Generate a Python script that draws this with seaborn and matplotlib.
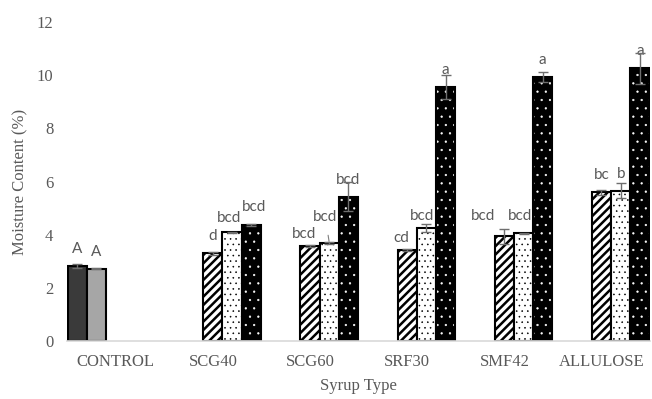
import numpy as np
import pandas as pd
import matplotlib
matplotlib.use("Agg")
import matplotlib.pyplot as plt
import matplotlib.patches as mpatches
import seaborn as sns

categories = ["CONTROL", "SCG40", "SCG60", "SRF30", "SMF42", "ALLULOSE"]
series = ["control_1", "control_2", "treat_1", "treat_2", "treat_3"]
nan = np.nan

control_1 = [2.83, nan, nan, nan, nan, nan]
control_2 = [2.73, nan, nan, nan, nan, nan]
treat_1 = [nan, 3.30, 3.57, 3.42, 3.95, 5.59]
treat_2 = [nan, 4.09, 3.70, 4.26, 4.05, 5.65]
treat_3 = [nan, 4.36, 5.43, 9.56, 9.94, 10.25]

control_1_err = [0.07, nan, nan, nan, nan, nan]
control_2_err = [0.03, nan, nan, nan, nan, nan]
treat_1_err = [nan, 0.05, 0.03, 0.03, 0.28, 0.10]
treat_2_err = [nan, 0.03, 0.04, 0.15, 0.03, 0.28]
treat_3_err = [nan, 0.04, 0.55, 0.45, 0.19, 0.60]

control_1_lab = ["A", "", "", "", "", ""]
control_2_lab = ["A", "", "", "", "", ""]
treat_1_lab = ["", "d", "bcd", "cd", "bcd", "bc"]
treat_2_lab = ["", "bcd", "bcd", "bcd", "bcd", "b"]
treat_3_lab = ["", "bcd", "bcd", "a", "a", "a"]

values = [control_1, control_2, treat_1, treat_2, treat_3]
errors = [control_1_err, control_2_err, treat_1_err, treat_2_err, treat_3_err]
letters = [control_1_lab, control_2_lab, treat_1_lab, treat_2_lab, treat_3_lab]

rows = []
for s, vals, errs, labs in zip(series, values, errors, letters):
    for c, v, e, l in zip(categories, vals, errs, labs):
        rows.append({"syrup": c, "series": s, "moisture": v, "err": e, "label": l})
df = pd.DataFrame(rows).dropna(subset=["moisture"])

# letter label nudges (pixels), the way they sit in the original
nudge = {
    ("SCG40", "treat_2"): (-3, 14),
    ("SCG40", "treat_3"): (3, 18),
    ("SCG60", "treat_1"): (-6, 12),
    ("SCG60", "treat_2"): (-4, 26),
    ("SRF30", "treat_1"): (-6, 12),
    ("SRF30", "treat_2"): (-4, 12),
    ("SMF42", "treat_1"): (-21, 20),
    ("SMF42", "treat_2"): (-3, 17),
}

sns.set_style("white")
plt.rcParams["hatch.linewidth"] = 1.8
serif = ["Liberation Serif", "DejaVu Serif"]
grey = "#595959"
fs = 12
fs_lab = 11


def hatch_lw(p, lw):
    # per-patch hatch width where matplotlib supports it
    if hasattr(p, "set_hatch_linewidth"):
        p.set_hatch_linewidth(lw)


fig = plt.figure(figsize=(6.52, 3.99), dpi=100)
ax = fig.add_axes([0.103, 0.145, 0.894, 0.80])

palette = {"control_1": "#3a3a3a", "control_2": "#a6a6a6",
           "treat_1": "white", "treat_2": "white", "treat_3": "black"}
sns.barplot(data=df, x="syrup", y="moisture", hue="series", order=categories,
            hue_order=series, palette=palette, width=0.99, errorbar=None,
            edgecolor="black", linewidth=1.5, legend=False, ax=ax)

conts = list(ax.containers)
for s, cont in zip(series, conts):
    sub = df[df["series"] == s].copy()
    sub["pos"] = sub["syrup"].map(categories.index)
    sub = sub.sort_values("pos")
    for bar, (_, row) in zip(cont, sub.iterrows()):
        if s == "treat_1":
            bar.set_hatch("////")
        elif s == "treat_2":
            bar.set_hatch("...")
            hatch_lw(bar, 0.4)
        elif s == "treat_3":
            bar.set_edgecolor("white")
            bar.set_hatch("..")
            hatch_lw(bar, 0.4)
            bar.set_linewidth(0)
            ax.add_patch(mpatches.Rectangle(bar.get_xy(), bar.get_width(), bar.get_height(),
                                            fill=False, ec="black", lw=1.5, zorder=bar.get_zorder() + 0.1))
        x = bar.get_x() + bar.get_width() / 2
        h = bar.get_height()
        ax.errorbar(x, h, yerr=row["err"], fmt="none", ecolor="#6e6e6e",
                    elinewidth=1, capsize=3.5, capthick=1, zorder=5)
        dx, dy = nudge.get((row["syrup"], s), (0, 17))
        kw = dict(xytext=(dx, dy), textcoords="offset pixels", ha="center", va="center",
                  fontsize=fs_lab, color=grey, family="Lato")
        if row["syrup"] == "SCG60" and s == "treat_2":
            kw["arrowprops"] = dict(arrowstyle="-", color="#7f7f7f", lw=0.8, shrinkA=6, shrinkB=1)
        ax.annotate(row["label"], (x, h), **kw)

ax.set_xlim(-0.5, 5.5)
ax.set_ylim(0, 12)
ax.set_yticks(np.arange(0, 13, 2))
sns.despine(ax=ax, left=True)
ax.spines["bottom"].set_color("#d9d9d9")
ax.spines["bottom"].set_linewidth(1.2)
ax.tick_params(axis="both", length=0, colors=grey, labelsize=fs)
ax.tick_params(axis="y", pad=10)
ax.tick_params(axis="x", pad=9)
for t in ax.get_xticklabels() + ax.get_yticklabels():
    t.set_family(serif)
ax.set_xlabel("Syrup Type", family=serif, fontsize=fs, color=grey, labelpad=6)
ax.set_ylabel("Moisture Content (%)", family=serif, fontsize=fs, color=grey, labelpad=6)

fig.savefig("out.png", dpi=100)
